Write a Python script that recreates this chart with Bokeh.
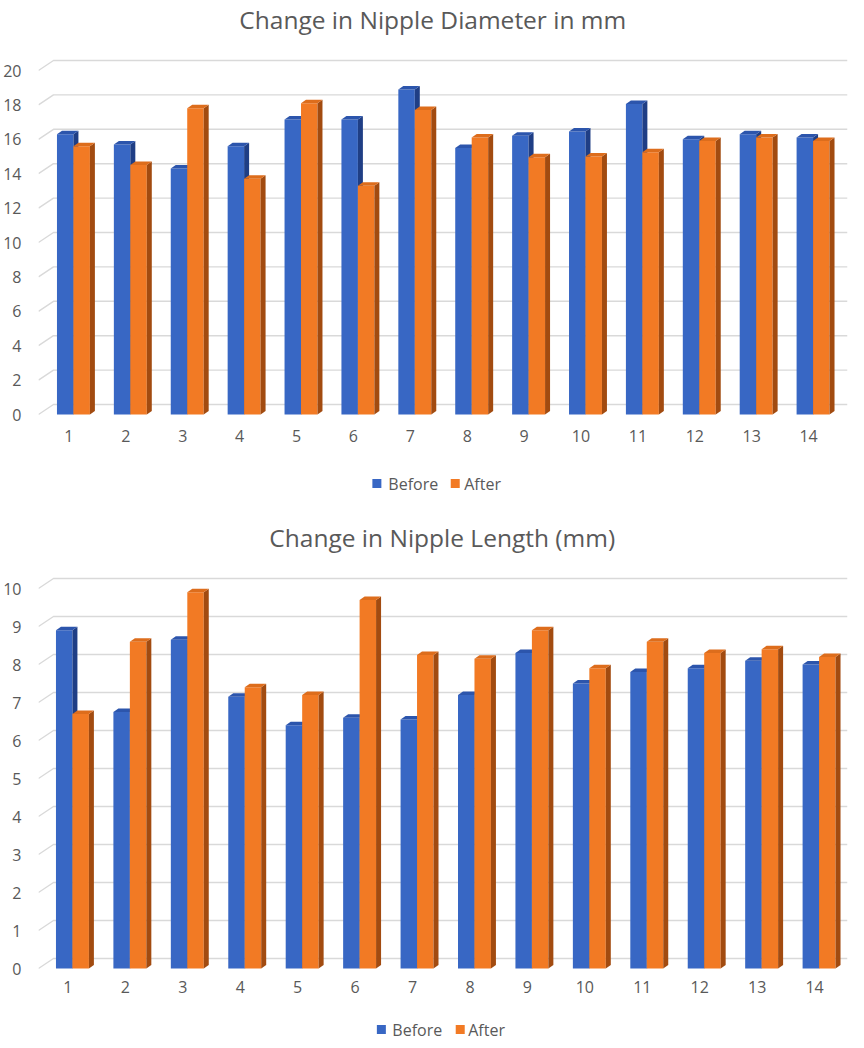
from bokeh.plotting import figure
from bokeh.models import Range1d, FixedTicker
from bokeh.core.properties import value
from bokeh.layouts import column
from bokeh.embed import file_html
from bokeh.resources import INLINE

# ---------------- data ----------------
patients = list(range(1, 15))
diam_before = [16.3, 15.7, 14.3, 15.6, 17.15, 17.15, 18.9, 15.5, 16.2, 16.45, 18.05, 16.0, 16.3, 16.1]
diam_after = [15.6, 14.5, 17.8, 13.7, 18.1, 13.3, 17.7, 16.1, 14.95, 15.0, 15.25, 15.9, 16.1, 15.9]
len_before = [8.9, 6.75, 8.65, 7.15, 6.4, 6.6, 6.55, 7.2, 8.3, 7.5, 7.8, 7.9, 8.1, 8.0]
len_after = [6.7, 8.6, 9.9, 7.4, 7.2, 9.7, 8.25, 8.15, 8.9, 7.9, 8.6, 8.3, 8.4, 8.2]
diam_ticks = [0, 2, 4, 6, 8, 10, 12, 14, 16, 18, 20]
len_ticks = [0, 1, 2, 3, 4, 5, 6, 7, 8, 9, 10]
series_names = ["Before", "After"]
titles = ["Change in Nipple Diameter in mm", "Change in Nipple Length (mm)"]

# ---------------- style / layout (page pixels) ----------------
FONT = "Open Sans"
TEXT = "#595959"
GRID = "#D9D9D9"
BLUE = ("#3867C4", "#2C55AC", "#1F3E85")      # front, cap, side
ORANGE = ("#F27A24", "#DD6D1C", "#A24B10")
W = 848
FRAME_L_PAGE = 37.5
FRAME_R_PAGE = 848.0


def make_chart(title, before, after, ticks, height, page_top, cat1_px, ppx, zero_px,
               ppy, title_xy, legend_y, legend_xs, x_standoff):
    x0 = 1 - (cat1_px - FRAME_L_PAGE) / ppx
    x1 = 1 + (FRAME_R_PAGE - cat1_px) / ppx
    y1 = (zero_px - page_top) / ppy
    y0 = -(page_top + height - zero_px) / ppy

    def dx(px):
        return 1 + (px - cat1_px) / ppx

    def dy(px):
        return (zero_px - px) / ppy

    p = figure(width=W, height=height, output_backend="svg", toolbar_location=None,
               x_range=Range1d(x0, x1), y_range=Range1d(y0, y1),
               min_border_left=30, min_border_right=1,
               min_border_top=0, min_border_bottom=0)
    p.outline_line_color = None
    p.grid.visible = False
    p.background_fill_color = "white"
    p.border_fill_color = "white"

    # back-wall gridlines (3D look)
    gdx = 15 / ppx
    gdy = 10 / ppy
    p.multi_line(xs=[[x0, x0 + gdx, x1] for t in ticks],
                 ys=[[t, t + gdy, t + gdy] for t in ticks],
                 line_color=GRID, line_width=1.4)

    # 3D bars: front face, side face, top cap
    shift = 4.5 / ppx
    half = 8.25 / ppx
    bw = 16.5 / ppx
    ddx = 5 / ppx
    ddy = 3.5 / ppy
    for vals, sign, cols in ((before, -1, BLUE), (after, 1, ORANGE)):
        cx = [c + shift + sign * half for c in patients]
        p.vbar(x=cx, top=vals, bottom=0, width=bw, fill_color=cols[0], line_color=None)
        xr = [c + bw / 2 for c in cx]
        xl = [c - bw / 2 for c in cx]
        p.patches(xs=[[a, a, a + ddx, a + ddx] for a in xr],
                  ys=[[0, v, v + ddy, ddy] for v in vals],
                  fill_color=cols[2], line_color=None)
        p.patches(xs=[[a, b, b + ddx, a + ddx] for a, b in zip(xl, xr)],
                  ys=[[v, v, v + ddy, v + ddy] for v in vals],
                  fill_color=cols[1], line_color=None)

    # axes
    for ax in (p.xaxis[0], p.yaxis[0]):
        ax.axis_line_color = None
        ax.major_tick_line_color = None
        ax.minor_tick_line_color = None
        ax.major_label_text_font = FONT
        ax.major_label_text_font_size = "16px"
        ax.major_label_text_color = TEXT
    p.xaxis.ticker = FixedTicker(ticks=patients)
    p.yaxis.ticker = FixedTicker(ticks=ticks)
    p.xaxis.fixed_location = 0
    p.xaxis.major_label_standoff = x_standoff
    p.yaxis.major_label_standoff = 11

    # title
    p.text(x=[dx(title_xy[0])], y=[dy(title_xy[1])], text=[title],
           text_font=value(FONT), text_font_size="24.5px", text_color=TEXT,
           text_align="center", text_baseline="middle")

    # legend
    ly = dy(legend_y)
    for i, cols in enumerate((BLUE, ORANGE)):
        sq_px, tx_px = legend_xs[i]
        p.scatter(x=[dx(sq_px)], y=[ly], marker="square", size=9,
                  fill_color=cols[0], line_color=None)
        p.text(x=[dx(tx_px)], y=[ly], text=[series_names[i]],
               text_font=value(FONT), text_font_size="16px", text_color=TEXT,
               text_align="left", text_baseline="middle")
    return p


p1 = make_chart(titles[0], diam_before, diam_after, diam_ticks, 512, 0,
                68, 57.0, 414, 17.2, (432.5, 19), 483,
                [(376.5, 388), (455, 464)], 9)
p2 = make_chart(titles[1], len_before, len_after, len_ticks, 528, 512,
                67, 57.54, 968, 38.0, (442, 537), 1029,
                [(381, 392), (460, 468)], 6)

layout = column(p1, p2, spacing=0)
open("out.html", "w").write(file_html(layout, INLINE))
